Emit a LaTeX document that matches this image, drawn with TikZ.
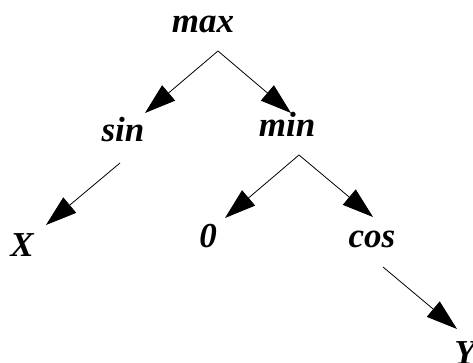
\documentclass[tikz,border=0pt]{standalone}
\usepackage{fontspec}
\setmainfont{Liberation Serif}
\usetikzlibrary{arrows.meta}
\begin{document}
\begin{tikzpicture}[x=1pt,y=-1pt,
  lbl/.style={anchor=base,inner sep=0pt,font=\fontsize{35}{35}\selectfont\bfseries\itshape},
  edge/.style={line width=0.8pt,-{Triangle[length=31pt,width=20pt]}}]
\useasboundingbox (0,0) rectangle (473,363);
\node[lbl] (max) at (203,33) {max};
\node[lbl] (sin) at (123,142) {sin};
\node[lbl] (min) at (287,137) {min};
\node[lbl] (X) at (22,256) {X};
\node[lbl] (zero) at (208,247) {0};
\node[lbl] (cos) at (372,247) {cos};
\node[lbl] (Y) at (465,364) {Y};
\coordinate (maxout) at (218,51);
\coordinate (sinin) at (145,113);
\coordinate (minin) at (291,113);
\coordinate (sinout) at (120,163);
\coordinate (Xin) at (46,225);
\coordinate (minout) at (299,155);
\coordinate (zeroin) at (225,218);
\coordinate (cosin) at (373,217);
\coordinate (cosout) at (383,267);
\coordinate (Yin) at (457,329);
\draw[edge] (maxout) -- (sinin);
\draw[edge] (maxout) -- (minin);
\draw[edge] (sinout) -- (Xin);
\draw[edge] (minout) -- (zeroin);
\draw[edge] (minout) -- (cosin);
\draw[edge] (cosout) -- (Yin);
\end{tikzpicture}
\end{document}
